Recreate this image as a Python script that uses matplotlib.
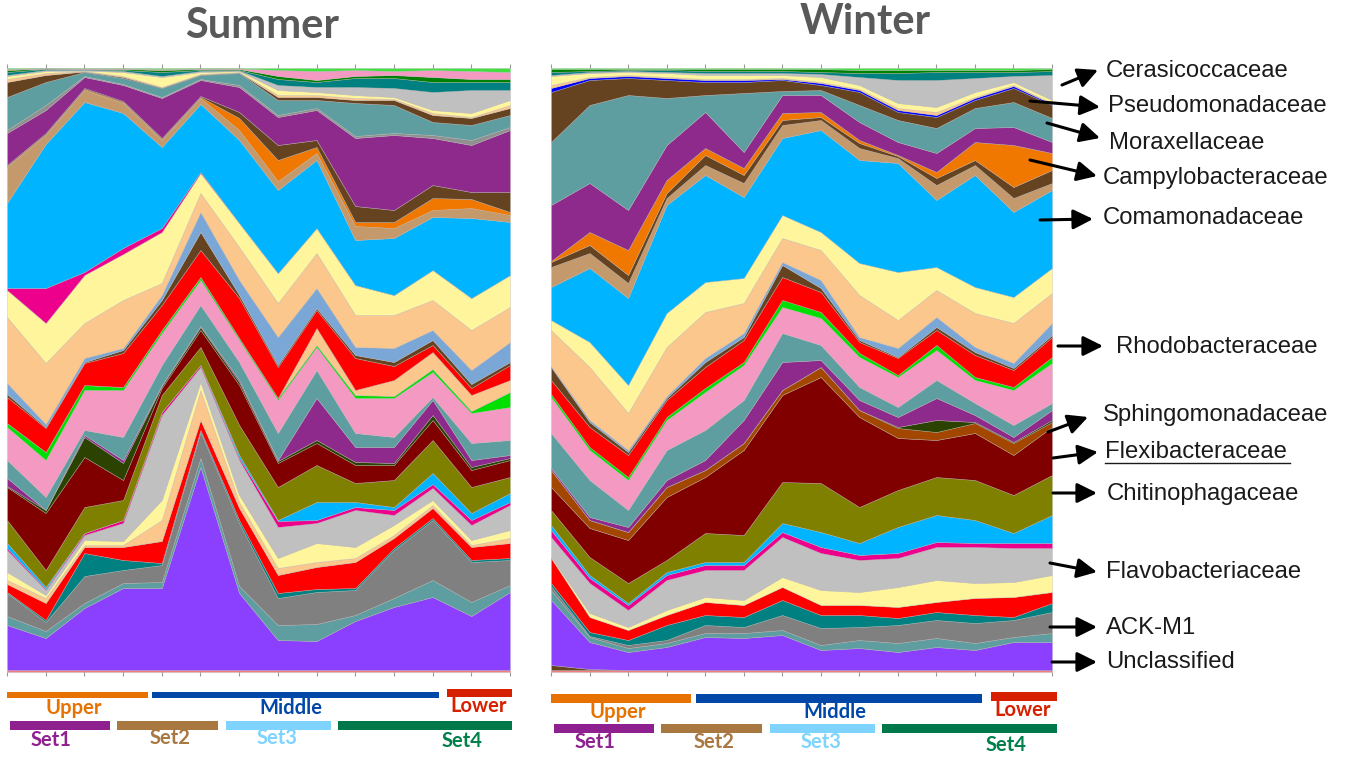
import matplotlib.pyplot as plt
from matplotlib.patches import Rectangle
import numpy as np

plt.rcParams['font.family'] = ['Lato', 'DejaVu Sans']

samples = ["S01", "S02", "S03", "S04", "S05", "S06", "S07",
           "S08", "S09", "S10", "S11", "S12", "S13", "S14"]

# ---- Summer: share of each taxon per sample, bottom -> top ----
s_salmon     = [2, 2, 2, 2, 2, 2, 2, 2, 2, 2, 2, 2, 2, 2]
s_unclass    = [45, 32, 62, 82, 82, 203, 77, 30, 29, 49, 63, 73, 54, 78]
s_cadet_lo   = [9, 7, 5, 5, 6, 9, 7, 15, 17, 6, 9, 17, 14, 7]
s_ackm1      = [23, 9, 27, 13, 17, 26, 63, 27, 32, 25, 48, 60, 40, 25]
s_teal_lo    = [1, 2, 23, 10, 2, 2, 3, 5, 3, 2, 2, 2, 2, 2]
s_red_lo     = [8, 17, 6, 13, 22, 10, 12, 18, 22, 26, 10, 10, 13, 15]
s_peach_lo   = [4, 5, 2, 2, 21, 30, 6, 7, 5, 4, 3, 3, 2, 5]
s_yellow_lo  = [8, 3, 5, 4, 20, 8, 7, 10, 19, 11, 10, 5, 5, 8]
s_flavo      = [22, 5, 5, 18, 85, 15, 35, 31, 20, 37, 10, 12, 15, 25]
s_magenta_lo = [2, 1, 2, 3, 3, 2, 2, 6, 3, 3, 5, 4, 5, 3]
s_blue_lo    = [5, 2, 0, 0, 0, 0, 3, 1, 18, 5, 3, 11, 7, 9]
s_chitino    = [23, 17, 26, 20, 17, 18, 30, 33, 37, 19, 27, 33, 26, 16]
s_flexi      = [33, 57, 50, 20, 7, 17, 40, 24, 22, 18, 15, 20, 17, 17]
s_dkgreen    = [1, 3, 20, 17, 2, 3, 3, 2, 3, 3, 2, 5, 3, 2]
s_sphingo    = [8, 0, 2, 3, 1, 1, 2, 1, 42, 15, 16, 15, 7, 3]
s_cadet_mid  = [18, 13, 5, 23, 20, 21, 18, 27, 28, 14, 10, 3, 17, 15]
s_pink       = [33, 37, 40, 47, 32, 25, 22, 33, 23, 35, 39, 25, 30, 33]
s_green      = [4, 8, 5, 3, 3, 3, 2, 2, 2, 3, 2, 3, 2, 15]
s_peach_mid  = [0, 0, 0, 0, 0, 0, 0, 0, 17, 5, 16, 17, 16, 12]
s_rhodo      = [26, 24, 22, 34, 25, 27, 40, 31, 18, 32, 14, 7, 7, 15]
s_brown_lo   = [3, 1, 1, 3, 5, 18, 3, 2, 2, 3, 4, 5, 4, 3]
s_steel      = [11, 3, 4, 2, 5, 20, 15, 28, 20, 8, 14, 10, 14, 20]
s_peach      = [66, 61, 35, 48, 12, 19, 33, 34, 35, 32, 33, 30, 40, 35]
s_yellow     = [27, 40, 48, 46, 51, 20, 24, 30, 25, 30, 20, 30, 32, 32]
s_magenta_up = [2, 35, 3, 6, 4, 1, 0, 0, 0, 0, 0, 0, 0, 0]
s_comamo     = [85, 144, 170, 135, 81, 68, 83, 83, 68, 45, 57, 53, 80, 53]
s_tan        = [36, 9, 12, 10, 7, 6, 10, 9, 7, 14, 10, 7, 10, 7]
s_campylo    = [1, 1, 1, 1, 1, 1, 12, 21, 6, 4, 6, 12, 9, 3]
s_brown_mid  = [1, 1, 1, 1, 1, 1, 6, 15, 7, 16, 12, 13, 7, 20]
s_moraxella  = [32, 23, 11, 16, 40, 16, 25, 28, 30, 68, 75, 47, 47, 62]
s_gray_up    = [3, 5, 1, 1, 1, 1, 2, 2, 2, 2, 2, 3, 5, 3]
s_pseudo     = [33, 23, 4, 6, 9, 4, 12, 15, 8, 33, 28, 13, 15, 12]
s_brown_up   = [15, 7, 0.5, 1, 0.5, 0.5, 0.5, 3, 3, 3, 5, 7, 7, 7]
s_peach_up   = [3, 2, 0.5, 1, 0.5, 0.5, 0.5, 2, 2, 2, 1, 2, 1, 3]
s_yellow_up  = [3, 2, 0.5, 4, 10, 2, 1, 5, 3, 3, 2, 3, 4, 5]
s_silver_up  = [1, 1, 0.5, 1, 1, 1, 0.5, 5, 5, 8, 9, 18, 23, 10]
s_cerasi     = [3, 1, 0.5, 1, 4, 1, 0.5, 6, 5, 9, 10, 10, 8, 8]
s_green_up   = [2, 0.5, 0.5, 1, 2, 1, 1, 3, 2, 2, 3, 5, 3, 3]
s_pink_up    = [1, 0.2, 0.5, 0.5, 1, 0.5, 0.5, 6, 9, 6, 4, 7, 8, 7]
s_lime       = [1, 0.3, 0.5, 0.5, 1, 0.5, 0.5, 2, 3, 2, 3, 2, 3, 4]

# ---- Winter ----
w_salmon     = [2, 2, 2, 2, 2, 2, 2, 2, 2, 2, 2, 2, 2, 2]
w_brown_bot  = [5, 1, 0, 0, 0, 0, 0, 0, 0, 0, 0, 0, 0, 0]
w_unclass    = [65, 27, 18, 23, 33, 32, 35, 20, 22, 18, 23, 20, 28, 28]
w_cadet_lo   = [10, 5, 4, 4, 4, 5, 5, 5, 8, 9, 9, 7, 5, 9]
w_ackm1      = [4, 1, 3, 3, 8, 6, 15, 17, 13, 18, 18, 20, 17, 21]
w_teal_lo    = [3, 4, 5, 15, 10, 10, 15, 13, 12, 7, 8, 8, 3, 9]
w_red_lo     = [25, 15, 10, 10, 13, 12, 13, 10, 10, 11, 10, 17, 20, 11]
w_yellow_lo  = [1, 4, 3, 5, 5, 5, 10, 15, 13, 20, 22, 15, 15, 17]
w_flavo      = [20, 30, 17, 30, 27, 30, 40, 37, 32, 29, 33, 36, 34, 27]
w_magenta    = [7, 5, 5, 5, 5, 5, 5, 6, 5, 5, 5, 4, 5, 5]
w_blue_lo    = [5, 3, 2, 3, 3, 3, 9, 15, 12, 26, 27, 23, 10, 28]
w_chitino    = [15, 18, 20, 12, 29, 27, 41, 49, 36, 37, 38, 40, 38, 40]
w_flexi      = [23, 29, 43, 63, 56, 85, 87, 106, 90, 52, 37, 47, 40, 48]
w_sienna     = [17, 8, 8, 10, 7, 7, 5, 10, 7, 10, 8, 10, 12, 5]
w_dkgreen    = [0, 0, 0, 0, 0, 0, 0, 0, 0, 1, 12, 1, 1, 2]
w_sphingo    = [2, 3, 5, 7, 10, 23, 28, 7, 10, 10, 22, 7, 5, 10]
w_cadet_mid  = [35, 37, 17, 30, 30, 20, 29, 15, 13, 10, 18, 12, 12, 7]
w_pink       = [36, 30, 30, 30, 38, 35, 26, 27, 30, 30, 30, 23, 35, 40]
w_green      = [3, 3, 3, 3, 4, 3, 7, 6, 4, 2, 5, 3, 3, 6]
w_rhodo      = [14, 20, 22, 17, 21, 22, 23, 20, 11, 17, 15, 22, 17, 20]
w_brown_lo   = [13, 5, 3, 2, 5, 3, 12, 4, 2, 1, 3, 3, 2, 2]
w_steel      = [1, 2, 2, 2, 4, 4, 3, 8, 3, 9, 10, 5, 5, 12]
w_peach      = [36, 53, 37, 49, 46, 30, 24, 30, 42, 28, 27, 34, 40, 30]
w_yellow     = [10, 25, 28, 34, 30, 25, 23, 18, 32, 48, 23, 26, 26, 25]
w_comamo     = [33, 74, 87, 108, 107, 81, 77, 102, 103, 109, 67, 112, 85, 78]
w_tan        = [20, 15, 15, 7, 10, 14, 13, 10, 12, 5, 15, 10, 14, 7]
w_brown_mid  = [5, 8, 8, 5, 10, 8, 5, 3, 5, 2, 7, 5, 11, 13]
w_campylo    = [1, 13, 25, 13, 7, 7, 7, 5, 3, 1, 6, 18, 42, 17]
w_purple_up  = [56, 49, 40, 35, 36, 16, 18, 17, 18, 13, 19, 14, 18, 11]
w_moraxella  = [63, 78, 115, 47, 17, 59, 4, 5, 17, 22, 25, 20, 25, 24]
w_pseudo     = [50, 25, 17, 18, 13, 11, 11, 5, 13, 8, 11, 8, 14, 13]
w_blue_line  = [4, 2, 2, 2, 2, 2, 1, 2, 2, 2, 2, 2, 2, 1]
w_peach_up   = [3, 1, 1, 1, 1, 1, 1, 1, 1, 2, 3, 1, 1, 1]
w_yellow_up  = [9, 4, 3, 4, 4, 4, 3, 5, 4, 5, 5, 5, 3, 3]
w_silver_up  = [1, 1, 1, 1, 2, 2, 2, 3, 8, 23, 27, 14, 6, 25]
w_cerasi     = [3, 1, 1, 2, 2, 2, 2, 2, 4, 7, 8, 6, 4, 4]
w_green_up   = [3, 2, 1, 1, 2, 2, 2, 3, 3, 3, 2, 2, 2, 2]
w_lime       = [1, 1, 1, 1, 1, 1, 1, 1, 2, 2, 2, 2, 2, 1]

summer_layers = [s_salmon, s_unclass, s_cadet_lo, s_ackm1, s_teal_lo, s_red_lo,
                 s_peach_lo, s_yellow_lo, s_flavo, s_magenta_lo, s_blue_lo,
                 s_chitino, s_flexi, s_dkgreen, s_sphingo, s_cadet_mid, s_pink,
                 s_green, s_peach_mid, s_rhodo, s_brown_lo, s_steel, s_peach,
                 s_yellow, s_magenta_up, s_comamo, s_tan, s_campylo, s_brown_mid,
                 s_moraxella, s_gray_up, s_pseudo, s_brown_up, s_peach_up,
                 s_yellow_up, s_silver_up, s_cerasi, s_green_up, s_pink_up, s_lime]
summer_colors = ['#F08080', '#8C40FF', '#5F9EA0', '#808080', '#008080', '#FF0000',
                 '#FBC78D', '#FFF59D', '#C0C0C0', '#EC008C', '#00B4FF',
                 '#808000', '#800000', '#2B4200', '#8E2A8B', '#5F9EA0', '#F49AC2',
                 '#00E000', '#FBC78D', '#FF0000', '#654321', '#7BA7D7', '#FBC78D',
                 '#FFF59D', '#EC008C', '#00B4FF', '#C49A6C', '#F07800', '#654321',
                 '#8E2A8B', '#909090', '#5F9EA0', '#654321', '#FBC78D',
                 '#FFF59D', '#C0C0C0', '#008080', '#008000', '#F49AC2', '#40E040']

winter_layers = [w_salmon, w_brown_bot, w_unclass, w_cadet_lo, w_ackm1, w_teal_lo,
                 w_red_lo, w_yellow_lo, w_flavo, w_magenta, w_blue_lo, w_chitino,
                 w_flexi, w_sienna, w_dkgreen, w_sphingo, w_cadet_mid, w_pink,
                 w_green, w_rhodo, w_brown_lo, w_steel, w_peach, w_yellow,
                 w_comamo, w_tan, w_brown_mid, w_campylo, w_purple_up,
                 w_moraxella, w_pseudo, w_blue_line, w_peach_up, w_yellow_up,
                 w_silver_up, w_cerasi, w_green_up, w_lime]
winter_colors = ['#F08080', '#654321', '#8C40FF', '#5F9EA0', '#808080', '#008080',
                 '#FF0000', '#FFF59D', '#C0C0C0', '#EC008C', '#00B4FF', '#808000',
                 '#800000', '#A34700', '#2B4200', '#8E2A8B', '#5F9EA0', '#F49AC2',
                 '#00E000', '#FF0000', '#654321', '#7BA7D7', '#FBC78D', '#FFF59D',
                 '#00B4FF', '#C49A6C', '#654321', '#F07800', '#8E2A8B',
                 '#5F9EA0', '#654321', '#0000FF', '#FBC78D', '#FFF59D',
                 '#C0C0C0', '#008080', '#008000', '#40E040']

family_labels = ["Cerasicoccaceae", "Pseudomonadaceae", "Moraxellaceae",
                 "Campylobacteraceae", "Comamonadaceae", "Rhodobacteraceae",
                 "Sphingomonadaceae", "Flexibacteraceae", "Chitinophagaceae",
                 "Flavobacteriaceae", "ACK-M1", "Unclassified"]

W, H = 1355, 757
fig = plt.figure(figsize=(W / 100, H / 100), dpi=100)


def panel(left, width, layers, colors):
    ax = fig.add_axes([left / W, (H - 672) / H, width / W, 604 / H])
    arr = np.array(layers, dtype=float)
    pct = arr / arr.sum(axis=0) * 100
    x = np.arange(len(samples))
    ax.stackplot(x, pct, colors=colors, edgecolor=(0.72, 0.70, 0.70, 0.6),
                 linewidth=0.4)
    ax.set_xlim(0, len(samples) - 1)
    ax.set_ylim(0, 100)
    ax.set_xticks(x)
    ax.set_yticks([])
    ax.tick_params(axis='x', top=True, bottom=True, direction='out', length=3,
                   width=0.8, color='#999999', labelbottom=False)
    for s in ax.spines.values():
        s.set_visible(False)
    return ax


panel(7, 503, summer_layers, summer_colors)
panel(551, 501, winter_layers, winter_colors)

# overlay in pixel coordinates for titles, group bars and the family labels
ov = fig.add_axes([0, 0, 1, 1], facecolor='none')
ov.set_xlim(0, W)
ov.set_ylim(H, 0)
ov.axis('off')

ov.text(262, 26, "Summer", ha='center', va='center', fontsize=30,
        fontweight='bold', color='#595959')
ov.text(865, 22, "Winter", ha='center', va='center', fontsize=30,
        fontweight='bold', color='#595959')

bars = [  # x0, x1, y0, y1, colour
    (7, 148, 692, 698, '#E87200'), (152, 439, 692, 698, '#0047A8'),
    (447, 512, 689, 697, '#D62000'),
    (10, 110, 721, 730, '#8E2090'), (117, 218, 721, 730, '#A87840'),
    (226, 331, 721, 730, '#7FD4FF'), (338, 512, 721, 730, '#00784A'),
    (551, 691, 694, 703, '#E87200'), (696, 982, 694, 703, '#0047A8'),
    (991, 1057, 692, 701, '#D62000'),
    (554, 654, 724, 733, '#8E2090'), (661, 762, 724, 733, '#A87840'),
    (770, 875, 724, 733, '#7FD4FF'), (882, 1057, 724, 733, '#00784A'),
]
for x0, x1, y0, y1, c in bars:
    ov.add_patch(Rectangle((x0, y0), x1 - x0, y1 - y0, color=c, lw=0))

group_text = [
    (74, 708, "Upper", '#E87200'), (291, 708, "Middle", '#0047A8'),
    (479, 706, "Lower", '#D62000'), (51, 740, "Set1", '#8E2090'),
    (170, 738, "Set2", '#A87840'), (277, 738, "Set3", '#7FD4FF'),
    (462, 741, "Set4", '#00804A'),
    (618, 712, "Upper", '#E87200'), (835, 712, "Middle", '#0047A8'),
    (1023, 710, "Lower", '#D62000'), (595, 742, "Set1", '#8E2090'),
    (714, 742, "Set2", '#A87840'), (821, 742, "Set3", '#7FD4FF'),
    (1006, 745, "Set4", '#00804A'),
]
for x, y, t, c in group_text:
    ov.text(x, y, t, ha='center', va='center', fontsize=14.5,
            fontweight='bold', color=c)

label_pos = [(1106, 71), (1108, 106), (1109, 143), (1103, 178), (1103, 218),
             (1116, 347), (1103, 415), (1105, 452), (1107, 494), (1106, 572),
             (1106, 628), (1106, 662)]
arrows = [((1062, 85), (1098, 70)), ((1030, 101), (1100, 107)),
          ((1047, 123), (1100, 138)), ((1030, 160), (1097, 176)),
          ((1040, 220), (1093, 219)), ((1058, 346), (1103, 346)),
          ((1048, 432), (1088, 417)), ((1053, 458), (1098, 452)),
          ((1053, 493), (1097, 493)), ((1050, 563), (1097, 572)),
          ((1050, 627), (1097, 627)), ((1052, 662), (1097, 662))]

for name, (tx, ty), (tail, head) in zip(family_labels, label_pos, arrows):
    ov.text(tx, ty, name, ha='left', va='center', fontsize=17.2,
            family='Liberation Sans', color='#1a1a1a')
    ov.annotate("", xy=head, xytext=tail,
                arrowprops=dict(arrowstyle='-|>,head_length=0.6,head_width=0.3',
                                color='black', lw=2.2, mutation_scale=20,
                                shrinkA=0, shrinkB=0))

# underline under Flexibacteraceae
ov.plot([1105, 1290], [463, 463], color='#1a1a1a', lw=1)

fig.savefig("out.png", dpi=100)
